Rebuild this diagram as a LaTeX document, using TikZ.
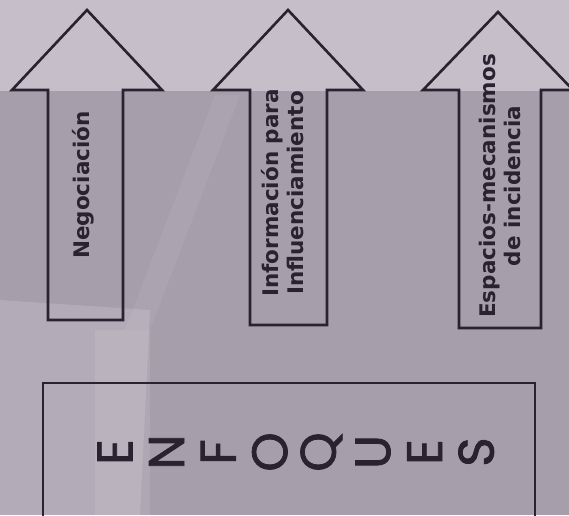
\documentclass[tikz,border=0pt]{standalone}
\usepackage{fontspec}
\setmainfont{DejaVu Sans}
\newfontfamily\enffont{Poppins}[FakeBold=1.6]
\definecolor{bandlight}{HTML}{C6BEC9}
\definecolor{bandmid}{HTML}{A79EAC}
\definecolor{inkdark}{HTML}{2A2230}

\begin{document}
\begin{tikzpicture}[x=1pt, y=-1pt,
  arrowline/.style={draw=inkdark, line width=2.6pt, line join=miter},
  lbl/.style   ={rotate=90, align=center, inner sep=0pt, text=inkdark,
                 font=\fontsize{21.5}{25}\selectfont\bfseries},
  frame/.style ={draw=inkdark, line width=2.8pt},
  letter/.style={rotate=90, inner sep=0pt, text=inkdark,
                 font=\enffont\fontsize{50}{50}\selectfont},
]
\useasboundingbox (0,0) rectangle (569,515);
\clip (0,0) rectangle (569,515);

% ---------------- background ----------------
\fill[bandmid]   (0,0) rectangle (569,515);
\fill[bandlight] (0,0) rectangle (569,91);
\fill[white, opacity=0.14] (0,300) -- (150,310) -- (140,515) -- (0,515) -- cycle;
\fill[white, opacity=0.10] (95,330) -- (150,330) -- (150,515) -- (95,515) -- cycle;
\fill[white, opacity=0.06] (215,95) -- (240,95) -- (150,330) -- (125,330) -- cycle;

% ---------------- arrows ----------------
\draw[arrowline] (48,320) -- (48,90) -- (12,90) -- (87,10) -- (162,90)
                 -- (123,90) -- (123,320) -- cycle;
\draw[arrowline] (250,325) -- (250,90) -- (213,90) -- (288,10) -- (363,90)
                 -- (327,90) -- (327,325) -- cycle;
\draw[arrowline] (459,328) -- (459,90) -- (423,90) -- (498,12) -- (573,90)
                 -- (541,90) -- (541,328) -- cycle;

\node[lbl] (neg)  at (83,185)  {Negociación};
\node[lbl] (info) at (283,193) {Información para\\Influenciamiento};
\node[lbl] (esp)  at (500,186) {Espacios-mecanismos\\de incidencia};

% ---------------- enfoques box ----------------
\draw[frame] (43,383) rectangle (535,530);
\foreach \ch [count=\i] in {E,N,F,O,Q,U,E,S}
  \node[letter] (enf\i) at ({115+51.6*(\i-1)},452) {\ch};

\end{tikzpicture}
\end{document}
